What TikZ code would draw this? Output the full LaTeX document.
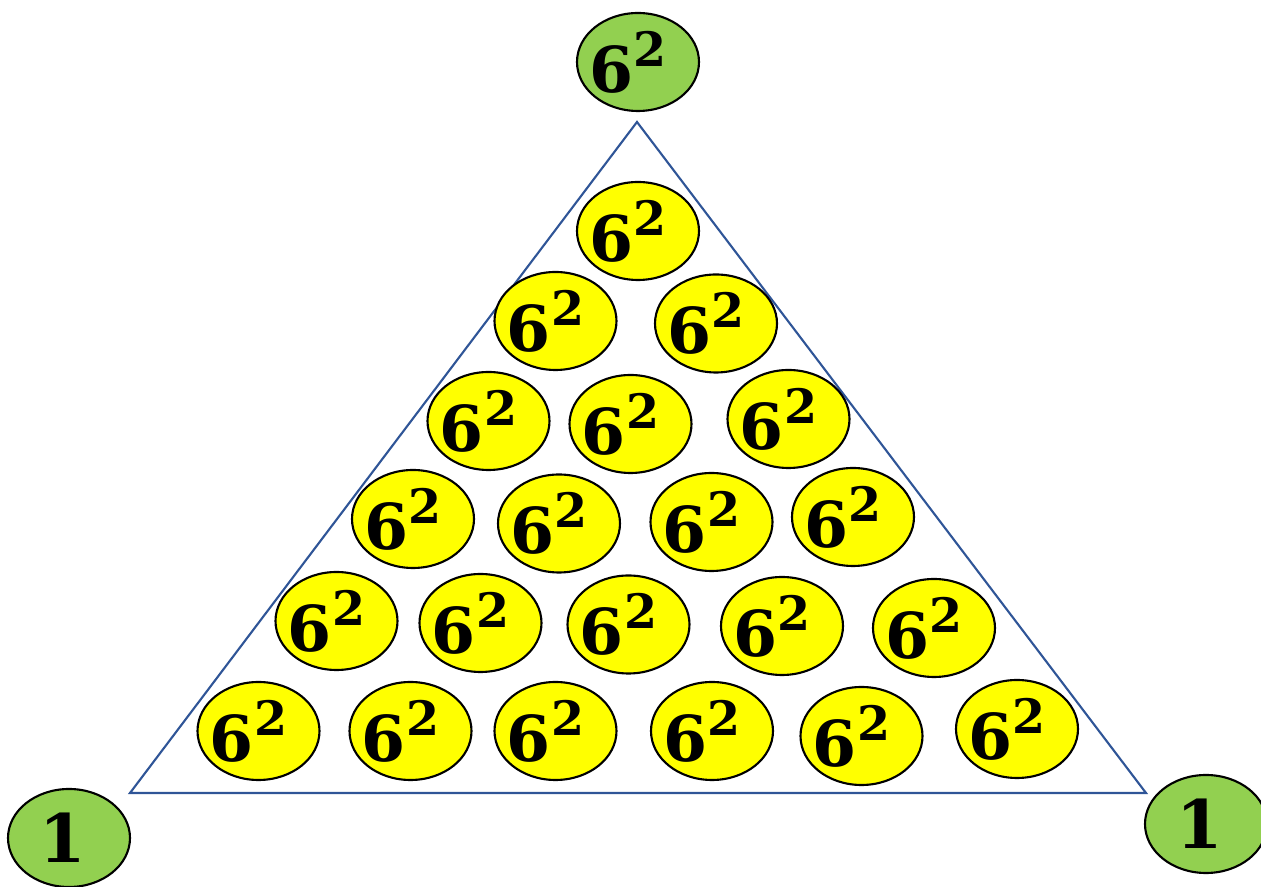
\documentclass[tikz,border=0pt]{standalone}
\usepackage{fontspec}
\setmainfont{DejaVu Serif}
\usepackage{xcolor}
\usepackage{tikz}
\usetikzlibrary{shapes.geometric}

\definecolor{ballyellow}{RGB}{255,255,0}
\definecolor{ballgreen}{RGB}{146,208,80}
\definecolor{edgeblue}{RGB}{47,85,151}

\newcommand{\sixsq}{\makebox[0pt]{\hspace{-0.2cm}{\fontsize{18}{18}\selectfont\bfseries 6}\raisebox{0.26cm}{\fontsize{13.5}{13.5}\selectfont\bfseries 2}}}
\newcommand{\onebig}{\makebox[0pt]{\hspace{-0.12cm}\fontsize{19}{19}\selectfont\bfseries 1}}

\begin{document}
\begin{tikzpicture}[
  ball/.style={ellipse, draw=black, line width=0.6pt, fill=ballyellow,
    minimum width=1.22cm, minimum height=0.98cm, inner sep=0pt},
  corner/.style={ball, fill=ballgreen},
  side/.style={draw=edgeblue, line width=0.6pt}
]
  \useasboundingbox (0,0) rectangle (12.61,-8.87);

  \coordinate (apex) at (6.37,-1.22);
  \coordinate (left) at (1.30,-7.93);
  \coordinate (right) at (11.46,-7.93);
  \draw[side] (apex) -- (left) -- (right) -- cycle;

  \node[corner] (ctop) at (6.38,-0.62) {\sixsq};
  \node[corner] (cleft) at (0.69,-8.38) {\onebig};
  \node[corner] (cright) at (12.06,-8.24) {\onebig};

  \node[ball] (y11) at (6.38,-2.31) {\sixsq};

  \node[ball] (y21) at (5.555,-3.21) {\sixsq};
  \node[ball] (y22) at (7.16,-3.235) {\sixsq};

  \node[ball] (y31) at (4.885,-4.21) {\sixsq};
  \node[ball] (y32) at (6.305,-4.24) {\sixsq};
  \node[ball] (y33) at (7.885,-4.19) {\sixsq};

  \node[ball] (y41) at (4.13,-5.19) {\sixsq};
  \node[ball] (y42) at (5.59,-5.235) {\sixsq};
  \node[ball] (y43) at (7.115,-5.22) {\sixsq};
  \node[ball] (y44) at (8.53,-5.17) {\sixsq};

  \node[ball] (y51) at (3.365,-6.21) {\sixsq};
  \node[ball] (y52) at (4.805,-6.23) {\sixsq};
  \node[ball] (y53) at (6.285,-6.245) {\sixsq};
  \node[ball] (y54) at (7.82,-6.26) {\sixsq};
  \node[ball] (y55) at (9.34,-6.28) {\sixsq};

  \node[ball] (y61) at (2.585,-7.31) {\sixsq};
  \node[ball] (y62) at (4.105,-7.31) {\sixsq};
  \node[ball] (y63) at (5.555,-7.31) {\sixsq};
  \node[ball] (y64) at (7.12,-7.31) {\sixsq};
  \node[ball] (y65) at (8.615,-7.36) {\sixsq};
  \node[ball] (y66) at (10.17,-7.29) {\sixsq};
\end{tikzpicture}
\end{document}
